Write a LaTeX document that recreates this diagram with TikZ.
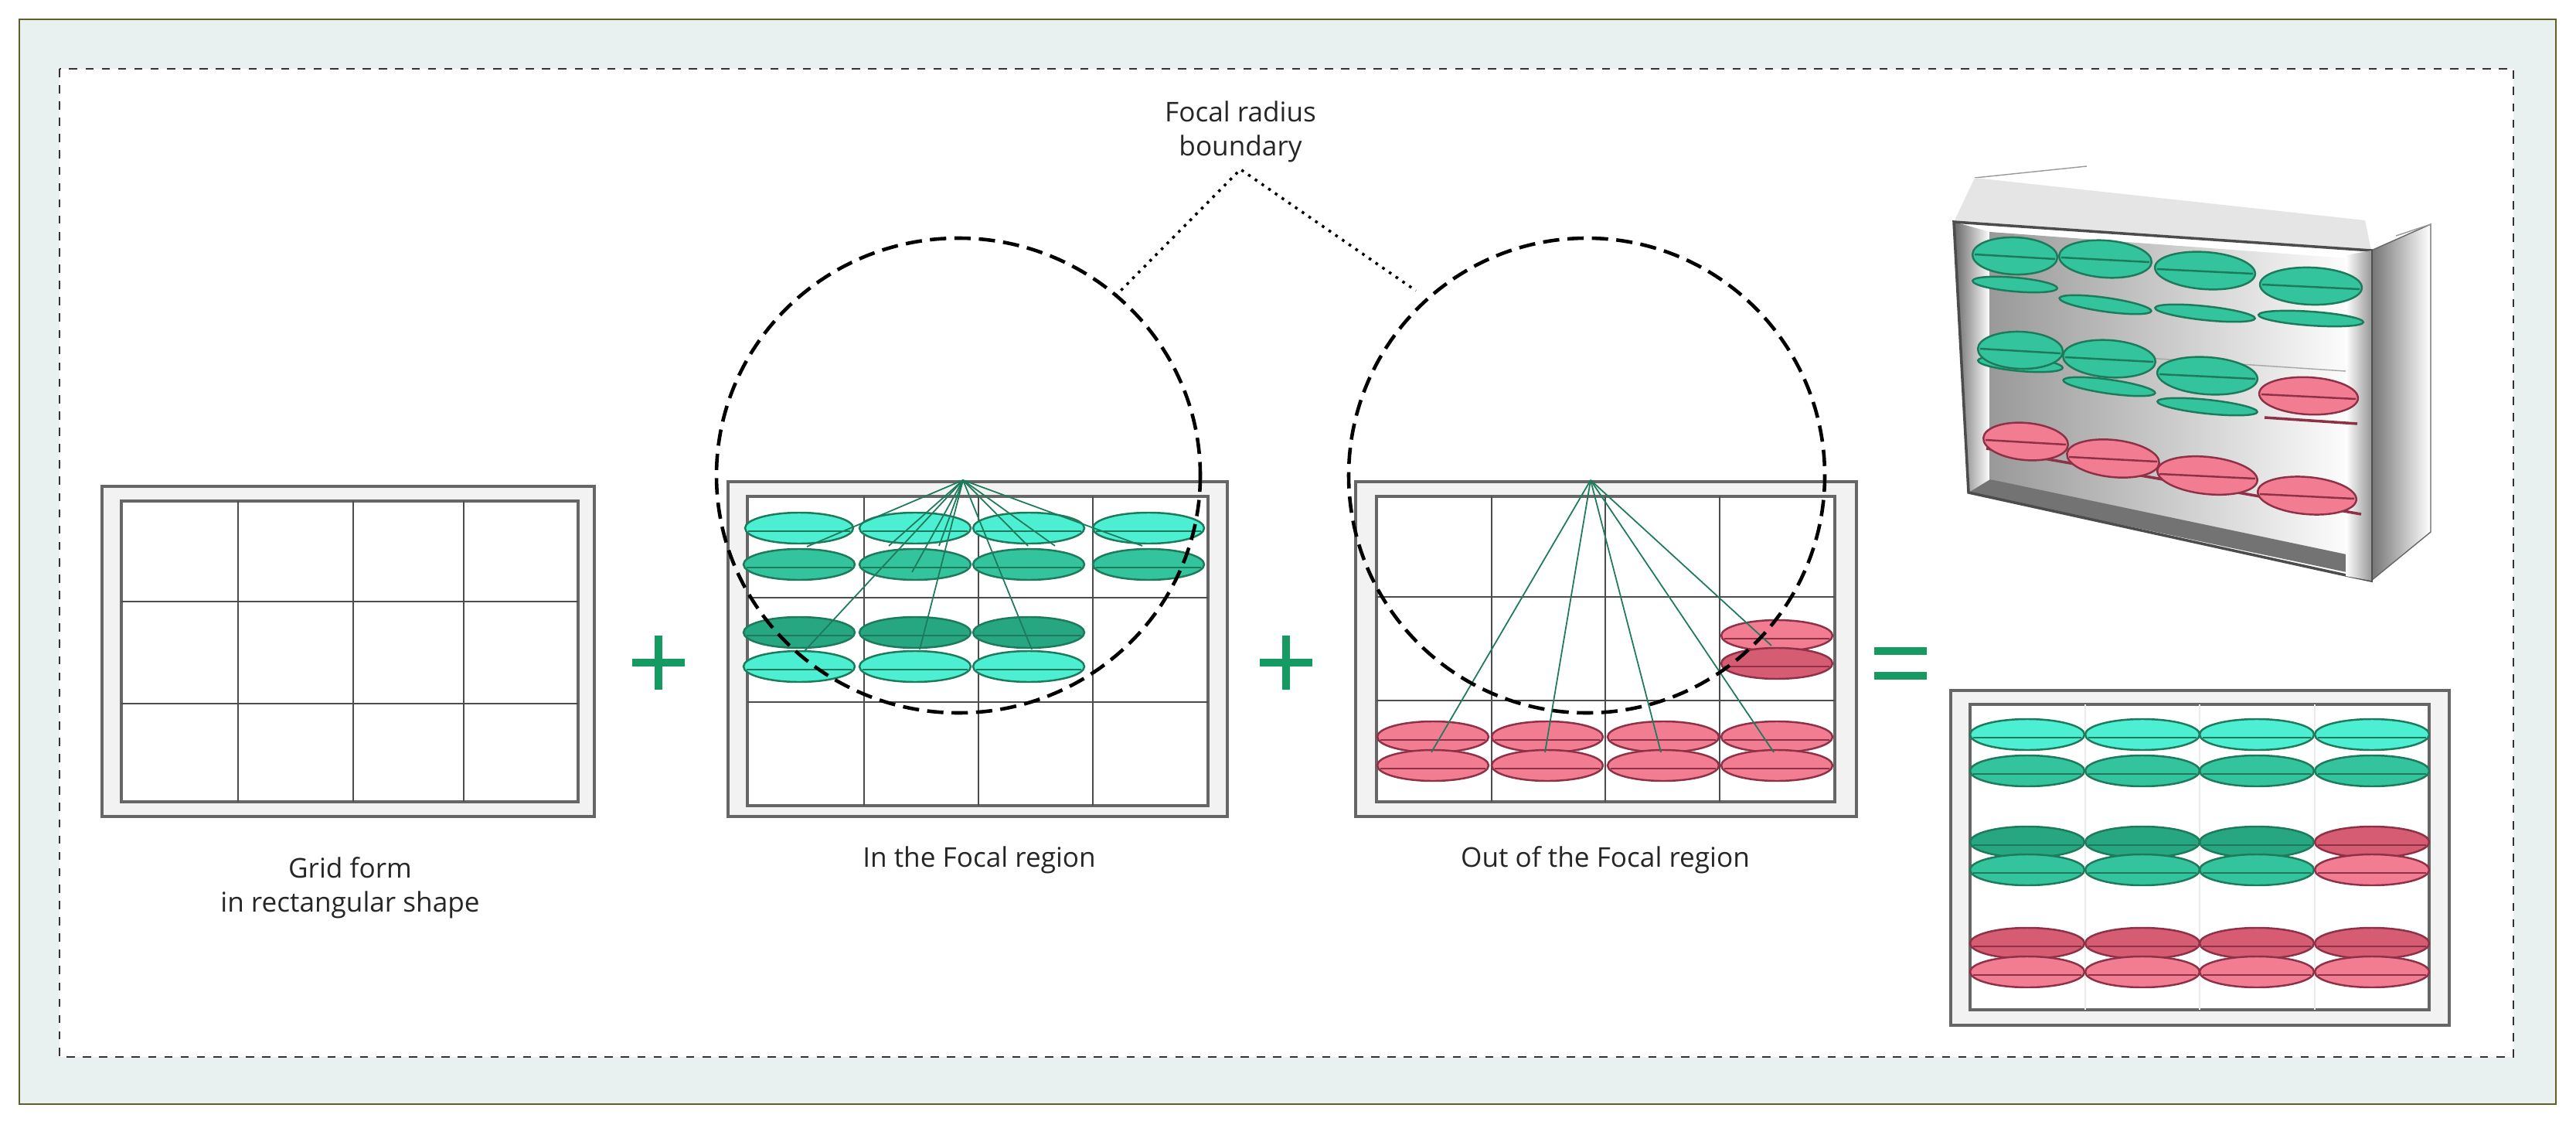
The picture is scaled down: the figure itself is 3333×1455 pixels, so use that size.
\documentclass[tikz,border=0pt]{standalone}
\usepackage{fontspec}
\setmainfont{Open Sans}
\definecolor{cyl}{HTML}{4CEFD2}
\definecolor{cym}{HTML}{33C49D}
\definecolor{cyd}{HTML}{27A682}
\definecolor{cye}{HTML}{1D7A5A}
\definecolor{rdl}{HTML}{F27D93}
\definecolor{rdd}{HTML}{D65C74}
\definecolor{rde}{HTML}{8E3046}
\definecolor{sg}{HTML}{159A62}
\definecolor{bgc}{HTML}{E8F1EF}
\begin{document}
\begin{tikzpicture}[x=0.01cm,y=-0.01cm,
  lab/.style={font=\fontsize{10}{12.5}\selectfont,align=center,text=black!85},
  frameo/.style={draw=black!60,line width=1.2pt,fill=black!5},
  framei/.style={draw=black!60,line width=1.3pt,fill=white},
  gridl/.style={draw=black!70,line width=0.5pt},
  focal/.style={draw=black,line width=1.3pt,dash pattern=on 6pt off 3pt},
  ray/.style={draw=cye,line width=0.5pt},
  cyL/.style={fill=cyl,draw=cye,line width=0.7pt},
  cyM/.style={fill=cym,draw=cye,line width=0.7pt},
  cyD/.style={fill=cyd,draw=cye,line width=0.7pt},
  rdL/.style={fill=rdl,draw=rde,line width=0.7pt},
  rdD/.style={fill=rdd,draw=rde,line width=0.7pt},
  sign/.style={draw=sg,line width=3pt}]
\useasboundingbox (0,0) rectangle (3333,1455);
\fill[white] (0,0) rectangle (3333,1455);
\draw[fill=bgc,draw=olive!60!black,line width=0.8pt] (25,25) rectangle (3307,1428);
\draw[fill=white,draw=black!80,dashed,line width=0.6pt] (77,89) rectangle (3252,1367);
\newcommand\pill[4]{\draw[#1] (#2,#3) ellipse [x radius=#4,y radius=20]; \draw[#1,fill=none] (#2-#4+4,#3+4) -- (#2+#4-4,#3+4);}
% panel 1
\draw[frameo] (132,629) rectangle (769,1056);
\draw[framei] (157,648) rectangle (748,1037);
\foreach \x in {308,457,600} \draw[gridl] (\x,648) -- (\x,1037);
\foreach \y in {778,910} \draw[gridl] (157,\y) -- (748,\y);
\node[lab] (t1) at (453,1148) {Grid form\\in rectangular shape};
% plus 1
\draw[sign] (852,822) -- (852,892) (818,857) -- (886,857);
% panel 2
\draw[frameo] (942,623) rectangle (1588,1056);
\draw[framei] (967,642) rectangle (1563,1042);
\foreach \x in {1118,1266,1414} \draw[gridl] (\x,642) -- (\x,1042);
\foreach \y in {773,908} \draw[gridl] (967,\y) -- (1563,\y);
\foreach \x/\r in {1034/70,1184/72,1331/72,1486/72} {\pill{cyL}{\x}{683}{\r}}
\foreach \x in {1034,1184,1331,1486} {\pill{cyM}{\x}{730}{72}}
\foreach \x in {1034,1184,1331} {\pill{cyD}{\x}{818}{72}}
\foreach \x in {1034,1184,1331} {\pill{cyL}{\x}{862}{72}}
\coordinate (f2) at (1246,621);
\foreach \p in {(1044,707),(1150,706),(1180,740),(1215,706),(1330,706),(1365,706),(1478,706),(1040,843),(1190,840),(1335,840)} \draw[ray] (f2) -- \p;
\draw[focal] (1240,615) ellipse [x radius=313,y radius=307];
\node[lab] (t2) at (1267,1112) {In the Focal region};
% plus 2
\draw[sign] (1664,822) -- (1664,892) (1630,857) -- (1698,857);
% panel 3
\draw[frameo] (1754,623) rectangle (2402,1056);
\draw[framei] (1781,642) rectangle (2374,1037);
\foreach \x in {1930,2077,2225} \draw[gridl] (\x,642) -- (\x,1037);
\foreach \y in {772,906} \draw[gridl] (1781,\y) -- (2374,\y);
\foreach \x in {1854,2002,2152,2299} {\pill{rdL}{\x}{953}{72}\pill{rdL}{\x}{990}{72}}
\pill{rdL}{2299}{822}{72}\pill{rdD}{2299}{858}{72}
\coordinate (f3) at (2058,621);
\foreach \p in {(1852,973),(1999,973),(2149,973),(2295,973),(2292,835)} \draw[ray] (f3) -- \p;
\draw[focal] (2053,615) ellipse [x radius=308,y radius=307];
\node[lab] (t3) at (2077,1112) {Out of the Focal region};
% equals
\draw[sign] (2425,842) -- (2493,842) (2425,874) -- (2493,874);
% label
\node[lab] (fl) at (1605,170) {Focal radius\\boundary};
\coordinate (c1) at (1443,383);
\coordinate (c2) at (1832,376);
\coordinate (ap) at (1605,219);
\draw[dotted,line width=1pt] (c1) -- (ap) -- (c2);
% bottom-right result panel
\draw[frameo] (2524,893) rectangle (3169,1326);
\draw[framei] (2549,911) rectangle (3143,1306);
\foreach \x in {2698,2846,2995} \draw[black!8] (\x,911) -- (\x,1306);
\foreach \x in {2623,2772,2920,3069} {\pill{cyL}{\x}{950}{74}\pill{cyM}{\x}{997}{74}}
\foreach \x in {2623,2772,2920} {\pill{cyD}{\x}{1089}{74}\pill{cyM}{\x}{1125}{74}}
\pill{rdD}{3069}{1089}{74}\pill{rdL}{3069}{1125}{74}
\foreach \x in {2623,2772,2920,3069} {\pill{rdD}{\x}{1220}{74}\pill{rdL}{\x}{1257}{74}}
% 3D box
\shade[left color=black!55,right color=white] (3068,324) -- (3145,290) -- (3145,688) -- (3068,751) -- cycle;
\draw[black!60] (3068,324) -- (3145,290) -- (3145,688) -- (3068,751);
\draw[black!40] (2555,230) -- (2700,215);
\draw[black!40] (3100,305) -- (3145,290);
\fill[black!10] (2555,230) -- (3060,285) -- (3068,324) -- (2528,287) -- cycle;
\shade[left color=black!40,right color=white] (2575,300) -- (3050,335) -- (3050,745) -- (2575,620) -- cycle;
\shade[left color=black!60,right color=white] (2528,287) -- (2575,300) -- (2575,620) -- (2547,637) -- cycle;
\fill[black!55] (2547,637) -- (2575,620) -- (3050,720) -- (3060,745) -- cycle;
\draw[black!70,line width=1pt] (2528,287) -- (3068,324) -- (3068,751) -- (3040,745) -- (2547,637) -- cycle;
\shade[left color=white,right color=black!40] (3035,330) -- (3068,324) -- (3068,751) -- (3035,745) -- cycle;
\draw[black!40] (2575,300) -- (2575,620);
\draw[black!35] (2580,450) -- (3035,480);
% shelf ellipses
\newcommand\topEl[5]{\draw[#1,rotate around={-#5:(#2,#3)}] (#2,#3) ellipse [x radius=#4,y radius=24]; \draw[#1,fill=none] (#2-#4+3,#3-2) -- (#2+#4-3,#3+4);}
\newcommand\thinEl[5]{\draw[#1,rotate around={-#5:(#2,#3)}] (#2,#3) ellipse [x radius=#4,y radius=9];}
\thinEl{cyM}{2607}{368}{55}{5}\thinEl{cyM}{2724}{394}{60}{8}\thinEl{cyM}{2853}{405}{65}{6}\thinEl{cyM}{2990}{412}{68}{4}
\topEl{cyM}{2607}{331}{55}{2}\topEl{cyM}{2724}{335}{60}{4}\topEl{cyM}{2853}{350}{65}{4}\topEl{cyM}{2990}{370}{66}{2}
\thinEl{cyM}{2614}{471}{55}{5}\thinEl{cyM}{2729}{500}{60}{8}\thinEl{cyM}{2856}{526}{65}{6}
\draw[rde,line width=1pt] (2930,540) -- (3050,548);
\topEl{cyM}{2614}{453}{55}{2}\topEl{cyM}{2729}{464}{60}{4}\topEl{cyM}{2856}{486}{65}{4}\topEl{rdL}{2987}{512}{64}{3}
\draw[rde,line width=1pt] (2570,580) -- (3055,665);
\topEl{rdL}{2621}{571}{55}{5}\topEl{rdL}{2734}{593}{60}{6}\topEl{rdL}{2856}{615}{65}{6}\topEl{rdL}{2985}{641}{64}{5}
\end{tikzpicture}
\end{document}
